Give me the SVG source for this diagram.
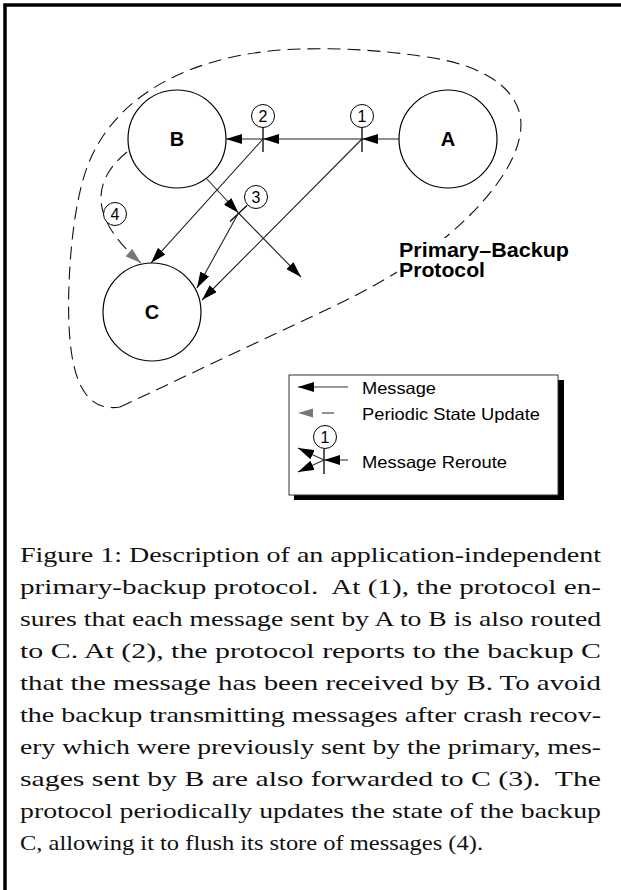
<svg xmlns="http://www.w3.org/2000/svg" width="621" height="890" viewBox="0 0 621 890">
  <style>
    .node { fill: #fff; stroke: #000; stroke-width: 1.2; }
    .nlabel { font-family: "Liberation Sans", Arial, sans-serif; font-weight: bold; font-size: 20px; text-anchor: middle; }
    .tag { fill: #fff; stroke: #000; stroke-width: 1; }
    .tagtext { font-family: "Liberation Sans", Arial, sans-serif; font-size: 16px; text-anchor: middle; }
    .msg { fill: none; stroke: #222; stroke-width: 1.1; }
    .tick { stroke: #000; stroke-width: 1.3; }
    .dash { fill: none; stroke: #111; stroke-width: 1.1; stroke-dasharray: 13 7; }
    .legtext { font-family: "Liberation Sans", Arial, sans-serif; font-size: 16.5px; }
    .caption { font-family: "Liberation Serif", "Times New Roman", serif; font-size: 22px; fill: #111; }
  </style>
  <defs>
    <marker id="ah" viewBox="0 0 16 10" refX="16" refY="5" markerWidth="16" markerHeight="10" orient="auto" markerUnits="userSpaceOnUse">
      <path d="M0,0 L16,5 L0,10 z" fill="#000"/>
    </marker>
    <marker id="ahg" viewBox="0 0 16 10" refX="16" refY="5" markerWidth="16" markerHeight="10" orient="auto" markerUnits="userSpaceOnUse">
      <path d="M0,0 L16,5 L0,10 z" fill="#777"/>
    </marker>
  </defs>

  <rect width="621" height="890" fill="#fff"/>
  <!-- page frame -->
  <path d="M5,890 V5 H621" fill="none" stroke="#000" stroke-width="3.5"/>

  <!-- protocol boundary -->
  <path class="dash" d="M120,407 L330,308 C400,275 440,245 470,215 C510,175 525,140 520,115 C512,80 470,62 420,56 C380,50 340,48 300,49 C200,52 120,90 90,160 C70,205 66,300 70,340 C74,385 88,412 120,407 Z"/>

  <g id="connectors">
    <!-- A to B, through reroute points 1 and 2 -->
    <line class="msg" x1="399" y1="139" x2="362" y2="139" marker-end="url(#ah)"/>
    <line class="msg" x1="362" y1="139" x2="263" y2="139" marker-end="url(#ah)"/>
    <line class="msg" x1="263" y1="139" x2="226" y2="139" marker-end="url(#ah)"/>
    <line class="tick" x1="362" y1="127" x2="362" y2="152"/>
    <line class="tick" x1="263" y1="127" x2="263" y2="152"/>
    <!-- copies routed to C -->
    <line class="msg" x1="362" y1="139" x2="202" y2="300" marker-end="url(#ah)"/>
    <line class="msg" x1="263" y1="139" x2="151" y2="263" marker-end="url(#ah)"/>
    <!-- B outgoing, rerouted at 3 -->
    <line class="msg" x1="205" y1="177" x2="238.5" y2="213" marker-end="url(#ah)"/>
    <line class="msg" x1="238.5" y1="213" x2="301" y2="277" marker-end="url(#ah)"/>
    <line class="tick" x1="230" y1="221.5" x2="247" y2="205.5"/>
    <line class="msg" x1="238.5" y1="213" x2="197" y2="288" marker-end="url(#ah)"/>
    <!-- periodic state update 4 -->
    <path class="dash" d="M127,152 C95,178 85,215 141,263" stroke="#555" marker-end="url(#ahg)"/>
  </g>

  <g id="node-A">
    <circle class="node" cx="448" cy="139" r="49"/>
    <text class="nlabel" x="448" y="146">A</text>
  </g>
  <g id="node-B">
    <circle class="node" cx="177" cy="139" r="49"/>
    <text class="nlabel" x="177" y="146">B</text>
  </g>
  <g id="node-C">
    <circle class="node" cx="152" cy="312" r="49"/>
    <text class="nlabel" x="152" y="319">C</text>
  </g>

  <g id="tag-1">
    <circle class="tag" cx="362" cy="116" r="11.5"/>
    <text class="tagtext" x="362" y="122">1</text>
  </g>
  <g id="tag-2">
    <circle class="tag" cx="263" cy="116" r="11.5"/>
    <text class="tagtext" x="263" y="122">2</text>
  </g>
  <g id="tag-3">
    <circle class="tag" cx="256" cy="197" r="11.5"/>
    <text class="tagtext" x="256" y="203">3</text>
  </g>
  <g id="tag-4">
    <circle class="tag" cx="115" cy="214" r="11.5"/>
    <text class="tagtext" x="115" y="220">4</text>
  </g>

  <g id="protocol-label">
    <rect x="397" y="238" width="176" height="44" fill="#fff"/>
    <text class="nlabel" style="text-anchor:start" x="399" y="257" textLength="170" lengthAdjust="spacingAndGlyphs">Primary–Backup</text>
    <text class="nlabel" style="text-anchor:start" x="399" y="277" textLength="86" lengthAdjust="spacingAndGlyphs">Protocol</text>
  </g>

  <g id="legend">
    <rect x="294" y="380" width="270" height="120" fill="#000"/>
    <rect x="289" y="375" width="269" height="120" fill="#fff" stroke="#333" stroke-width="1"/>
    <line x1="348" y1="387" x2="298" y2="387" stroke="#777" stroke-width="1.3" marker-end="url(#ah)"/>
    <text class="legtext" x="362" y="394" textLength="74" lengthAdjust="spacingAndGlyphs">Message</text>
    <path d="M313,408.5 L298,413 L313,417.5 z" fill="#777"/>
    <line x1="322" y1="413" x2="334" y2="413" stroke="#555" stroke-width="1.3"/>
    <text class="legtext" x="362" y="420" textLength="178" lengthAdjust="spacingAndGlyphs">Periodic State Update</text>
    <circle class="tag" cx="325" cy="437" r="11.5"/>
    <text class="tagtext" x="325" y="443">1</text>
    <line class="tick" x1="324" y1="449" x2="324" y2="474"/>
    <line x1="348" y1="460" x2="324" y2="460" stroke="#333" stroke-width="1.1" marker-end="url(#ah)"/>
    <line x1="324" y1="460" x2="298" y2="448" stroke="#333" stroke-width="1.1" marker-end="url(#ah)"/>
    <line x1="324" y1="460" x2="298" y2="472" stroke="#333" stroke-width="1.1" marker-end="url(#ah)"/>
    <text class="legtext" x="362" y="468" textLength="145" lengthAdjust="spacingAndGlyphs">Message Reroute</text>
  </g>

  <g id="caption" class="caption">
    <text x="20" y="562" textLength="581" lengthAdjust="spacingAndGlyphs">Figure 1: Description of an application-independent</text>
    <text x="20" y="594" textLength="581" lengthAdjust="spacingAndGlyphs">primary-backup protocol.&#160; At (1), the protocol en-</text>
    <text x="20" y="626" textLength="581" lengthAdjust="spacingAndGlyphs">sures that each message sent by A to B is also routed</text>
    <text x="20" y="658" textLength="581" lengthAdjust="spacingAndGlyphs">to C. At (2), the protocol reports to the backup C</text>
    <text x="20" y="690" textLength="581" lengthAdjust="spacingAndGlyphs">that the message has been received by B. To avoid</text>
    <text x="20" y="722" textLength="581" lengthAdjust="spacingAndGlyphs">the backup transmitting messages after crash recov-</text>
    <text x="20" y="754" textLength="581" lengthAdjust="spacingAndGlyphs">ery which were previously sent by the primary, mes-</text>
    <text x="20" y="786" textLength="581" lengthAdjust="spacingAndGlyphs">sages sent by B are also forwarded to C (3).&#160; The</text>
    <text x="20" y="818" textLength="581" lengthAdjust="spacingAndGlyphs">protocol periodically updates the state of the backup</text>
    <text x="20" y="850" textLength="463" lengthAdjust="spacingAndGlyphs">C, allowing it to flush its store of messages (4).</text>
  </g>
</svg>
